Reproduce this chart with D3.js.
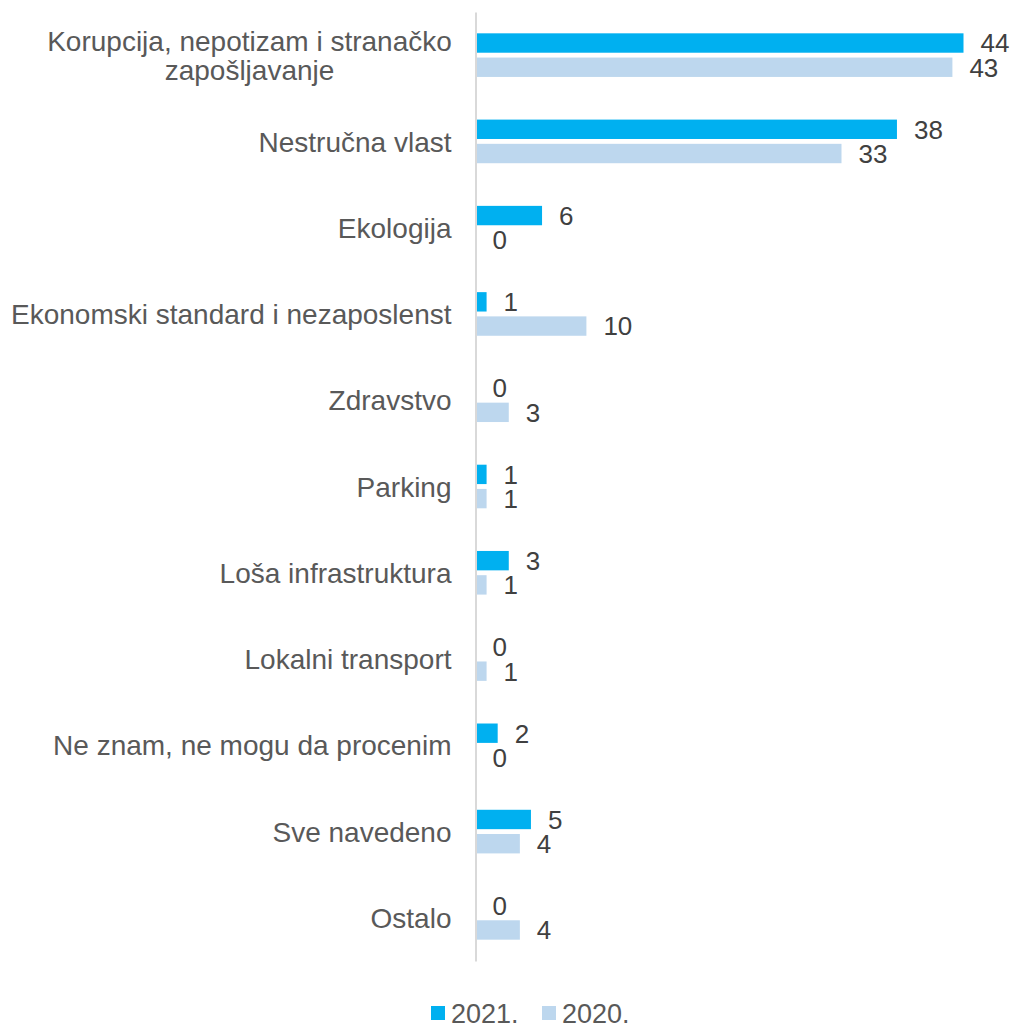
<!DOCTYPE html>
<html>
<head>
<meta charset="utf-8">
<script src="https://cdn.jsdelivr.net/npm/d3@7"></script>
<style>
  body { margin: 0; background: #fff; }
  svg { font-family: "Liberation Sans", Arial, sans-serif; }
</style>
</head>
<body>
<div id="chart"></div>
<script>
// categories top to bottom, "\n" marks a line break in the label
const categories = [
    "Korupcija, nepotizam i stranačko\nzapošljavanje",
    "Nestručna vlast",
    "Ekologija",
    "Ekonomski standard i nezaposlenst",
    "Zdravstvo",
    "Parking",
    "Loša infrastruktura",
    "Lokalni transport",
    "Ne znam, ne mogu da procenim",
    "Sve navedeno",
    "Ostalo"
];
const seriesNames = ["2021.", "2020."];
const values2021 = [44, 38, 6, 1, 0, 1, 3, 0, 2, 5, 0];
const values2020 = [43, 33, 0, 10, 3, 1, 1, 1, 0, 4, 4];
const seriesColors = ["#00B0F0", "#BDD7EE"];

const data = categories.map((c, i) => ({
    category: c,
    values: [
        { series: seriesNames[0], value: values2021[i] },
        { series: seriesNames[1], value: values2020[i] }
    ]
}));

const width = 1014, height = 1024;

const svg = d3.select("#chart")
    .append("svg")
    .attr("width", width)
    .attr("height", height);

// scales
const x = d3.scaleLinear()
    .domain([0, 44])
    .range([475.5, 963.5]);

const y = d3.scaleBand()
    .domain(categories)
    .range([12, 961]);

const ySub = d3.scaleBand()
    .domain(seriesNames)
    .range([0, y.bandwidth()])
    .paddingInner(0.2)
    .paddingOuter(0.88);

const color = d3.scaleOrdinal()
    .domain(seriesNames)
    .range(seriesColors);

// bars
const groups = svg.selectAll(".group")
    .data(data)
    .enter().append("g")
    .attr("class", "group")
    .attr("transform", d => `translate(0,${y(d.category)})`);

groups.selectAll("rect")
    .data(d => d.values)
    .enter().append("rect")
    .attr("x", x(0))
    .attr("y", d => ySub(d.series))
    .attr("width", d => x(d.value) - x(0))
    .attr("height", ySub.bandwidth())
    .attr("fill", d => color(d.series));

// value labels
groups.selectAll(".val")
    .data(d => d.values)
    .enter().append("text")
    .attr("class", "val")
    .attr("x", d => x(d.value) + 17)
    .attr("y", d => ySub(d.series) + ySub.bandwidth() / 2)
    .attr("dy", "0.36em")
    .style("font-size", "26px")
    .style("fill", "#404040")
    .text(d => d.value);

// category axis
const yAxis = svg.append("g")
    .attr("transform", `translate(${x(0)},0)`)
    .call(d3.axisLeft(y).tickSize(0).tickPadding(24));

yAxis.select(".domain")
    .attr("stroke", "#D9D9D9")
    .attr("stroke-width", 2);

yAxis.selectAll(".tick text")
    .style("font-size", "28px")
    .style("fill", "#595959")
    .attr("font-family", null)
    .each(function(d) {
        const lines = d.split("\n");
        const t = d3.select(this).text(null).attr("dy", null);
        const lh = 29;
        if (lines.length > 1) t.attr("text-anchor", "middle");
        lines.forEach((line, i) => {
            t.append("tspan")
                .attr("x", lines.length > 1 ? -226 : -24)
                .attr("y", (i - (lines.length - 1) / 2) * lh)
                .attr("dy", "0.36em")
                .text(line);
        });
    });

// legend
const legend = svg.append("g")
    .attr("transform", "translate(431,1006)");

const legendX = [0, 111];
const items = legend.selectAll(".legend-item")
    .data(seriesNames)
    .enter().append("g")
    .attr("class", "legend-item")
    .attr("transform", (d, i) => `translate(${legendX[i]},0)`);

items.append("rect")
    .attr("width", 14)
    .attr("height", 14)
    .attr("fill", d => color(d));

items.append("text")
    .attr("x", 20)
    .attr("y", 7)
    .attr("dy", "0.36em")
    .style("font-size", "27px")
    .style("fill", "#595959")
    .text(d => d);
</script>
</body>
</html>
